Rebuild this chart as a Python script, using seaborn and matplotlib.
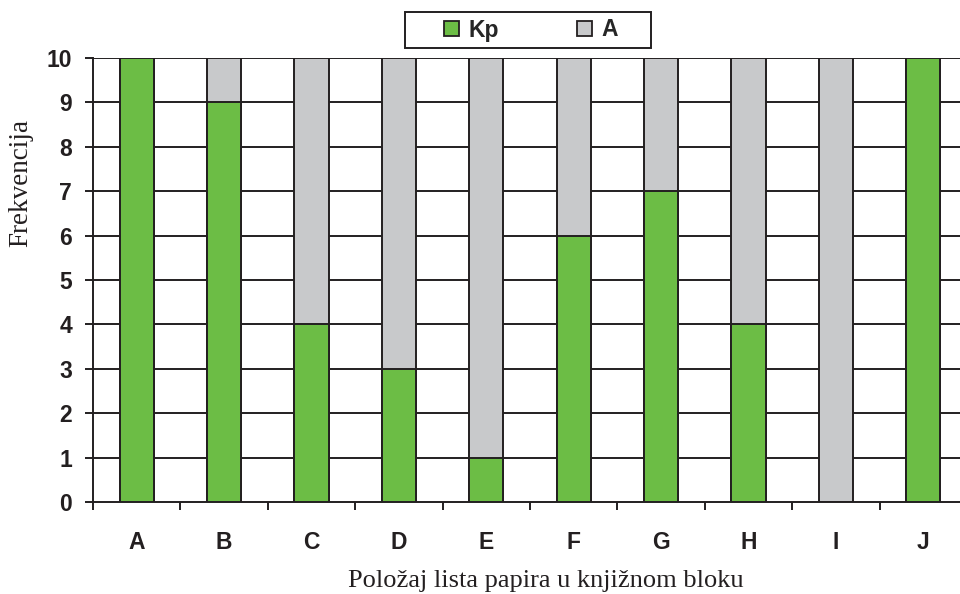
import seaborn as sns
import pandas as pd
import matplotlib
matplotlib.use("Agg")
import matplotlib.pyplot as plt
from matplotlib.patches import Patch, Rectangle

categories = ['A', 'B', 'C', 'D', 'E', 'F', 'G', 'H', 'I', 'J']
kp_values = [10, 9, 4, 3, 1, 6, 7, 4, 0, 10]
a_values = [0, 1, 6, 7, 9, 4, 3, 6, 10, 0]

green = '#6cbd45'
grey = '#c8c9cb'
ink = '#231f20'

df = pd.DataFrame({'cat': categories, 'Kp': kp_values,
                   'total': [k + a for k, a in zip(kp_values, a_values)]})

sns.set_style('white')
plt.rcParams['font.family'] = ['Liberation Sans', 'DejaVu Sans']

fig = plt.figure(figsize=(9.6, 5.94), dpi=100)
ax = fig.add_axes([93 / 960, 1 - 502 / 594, (967 - 93) / 960, (502 - 58) / 594])

# horizontal grid lines behind the bars
for yv in range(1, 11):
    ax.axhline(yv, color=ink, linewidth=1.4, zorder=0)

# grey = Kp + A (full height), green Kp drawn over it
sns.barplot(data=df, x='cat', y='total', color=grey, width=0.39,
            edgecolor=ink, linewidth=1.4, saturation=1, ax=ax, zorder=2)
sns.barplot(data=df, x='cat', y='Kp', color=green, width=0.39,
            edgecolor=ink, linewidth=1.4, saturation=1, ax=ax, zorder=3)

ax.set_xlim(-0.5, 9.5)
ax.set_ylim(0, 10)
ax.set_yticks(range(0, 11))
ax.set_xticks(range(10))
ax.set_xticklabels(categories)
ax.set_xticks([i - 0.5 for i in range(11)], minor=True)

for s in ['top', 'right']:
    ax.spines[s].set_visible(False)
for s in ['left', 'bottom']:
    ax.spines[s].set_color(ink)
    ax.spines[s].set_linewidth(1.4)

ax.tick_params(axis='y', direction='out', length=6, width=1.4, color=ink,
               labelsize=16.5, pad=9, left=True)
ax.tick_params(axis='x', which='major', length=0, labelsize=16.5, pad=21)
ax.tick_params(axis='x', which='minor', direction='out', length=6, width=1.4,
               color=ink, bottom=True)
for lab in ax.get_xticklabels() + ax.get_yticklabels():
    lab.set_fontweight('bold')
    lab.set_color(ink)

ax.set_xlabel('Položaj lista papira u knjižnom bloku', family='Liberation Serif',
              fontsize=19, color=ink)
ax.xaxis.set_label_coords((546 - 93) / 874, (502 - 570) / 444)
ax.set_ylabel('Frekvencija', family='Liberation Serif', fontsize=19.5, color=ink)
ax.yaxis.set_label_coords((33 - 93) / 874, (502 - 183) / 444)

# legend box drawn as its own rectangle (wide padding left and right)
fig.patches.append(Rectangle((405 / 960, 1 - 48 / 594), 246 / 960, 36 / 594,
                             transform=fig.transFigure, fill=False,
                             edgecolor=ink, linewidth=1.4))
handles = [Patch(facecolor=green, edgecolor=ink, linewidth=1.3, label='Kp'),
           Patch(facecolor=grey, edgecolor=ink, linewidth=1.3, label='A')]
fig.legend(handles=handles, loc='center', bbox_to_anchor=(531 / 960, 1 - 30 / 594),
           ncol=2, frameon=False, prop={'weight': 'bold', 'size': 16.5},
           handlelength=0.65, handleheight=0.65, handletextpad=0.4,
           columnspacing=3.4, borderpad=0, borderaxespad=0)

fig.savefig('out.png', dpi=100)
